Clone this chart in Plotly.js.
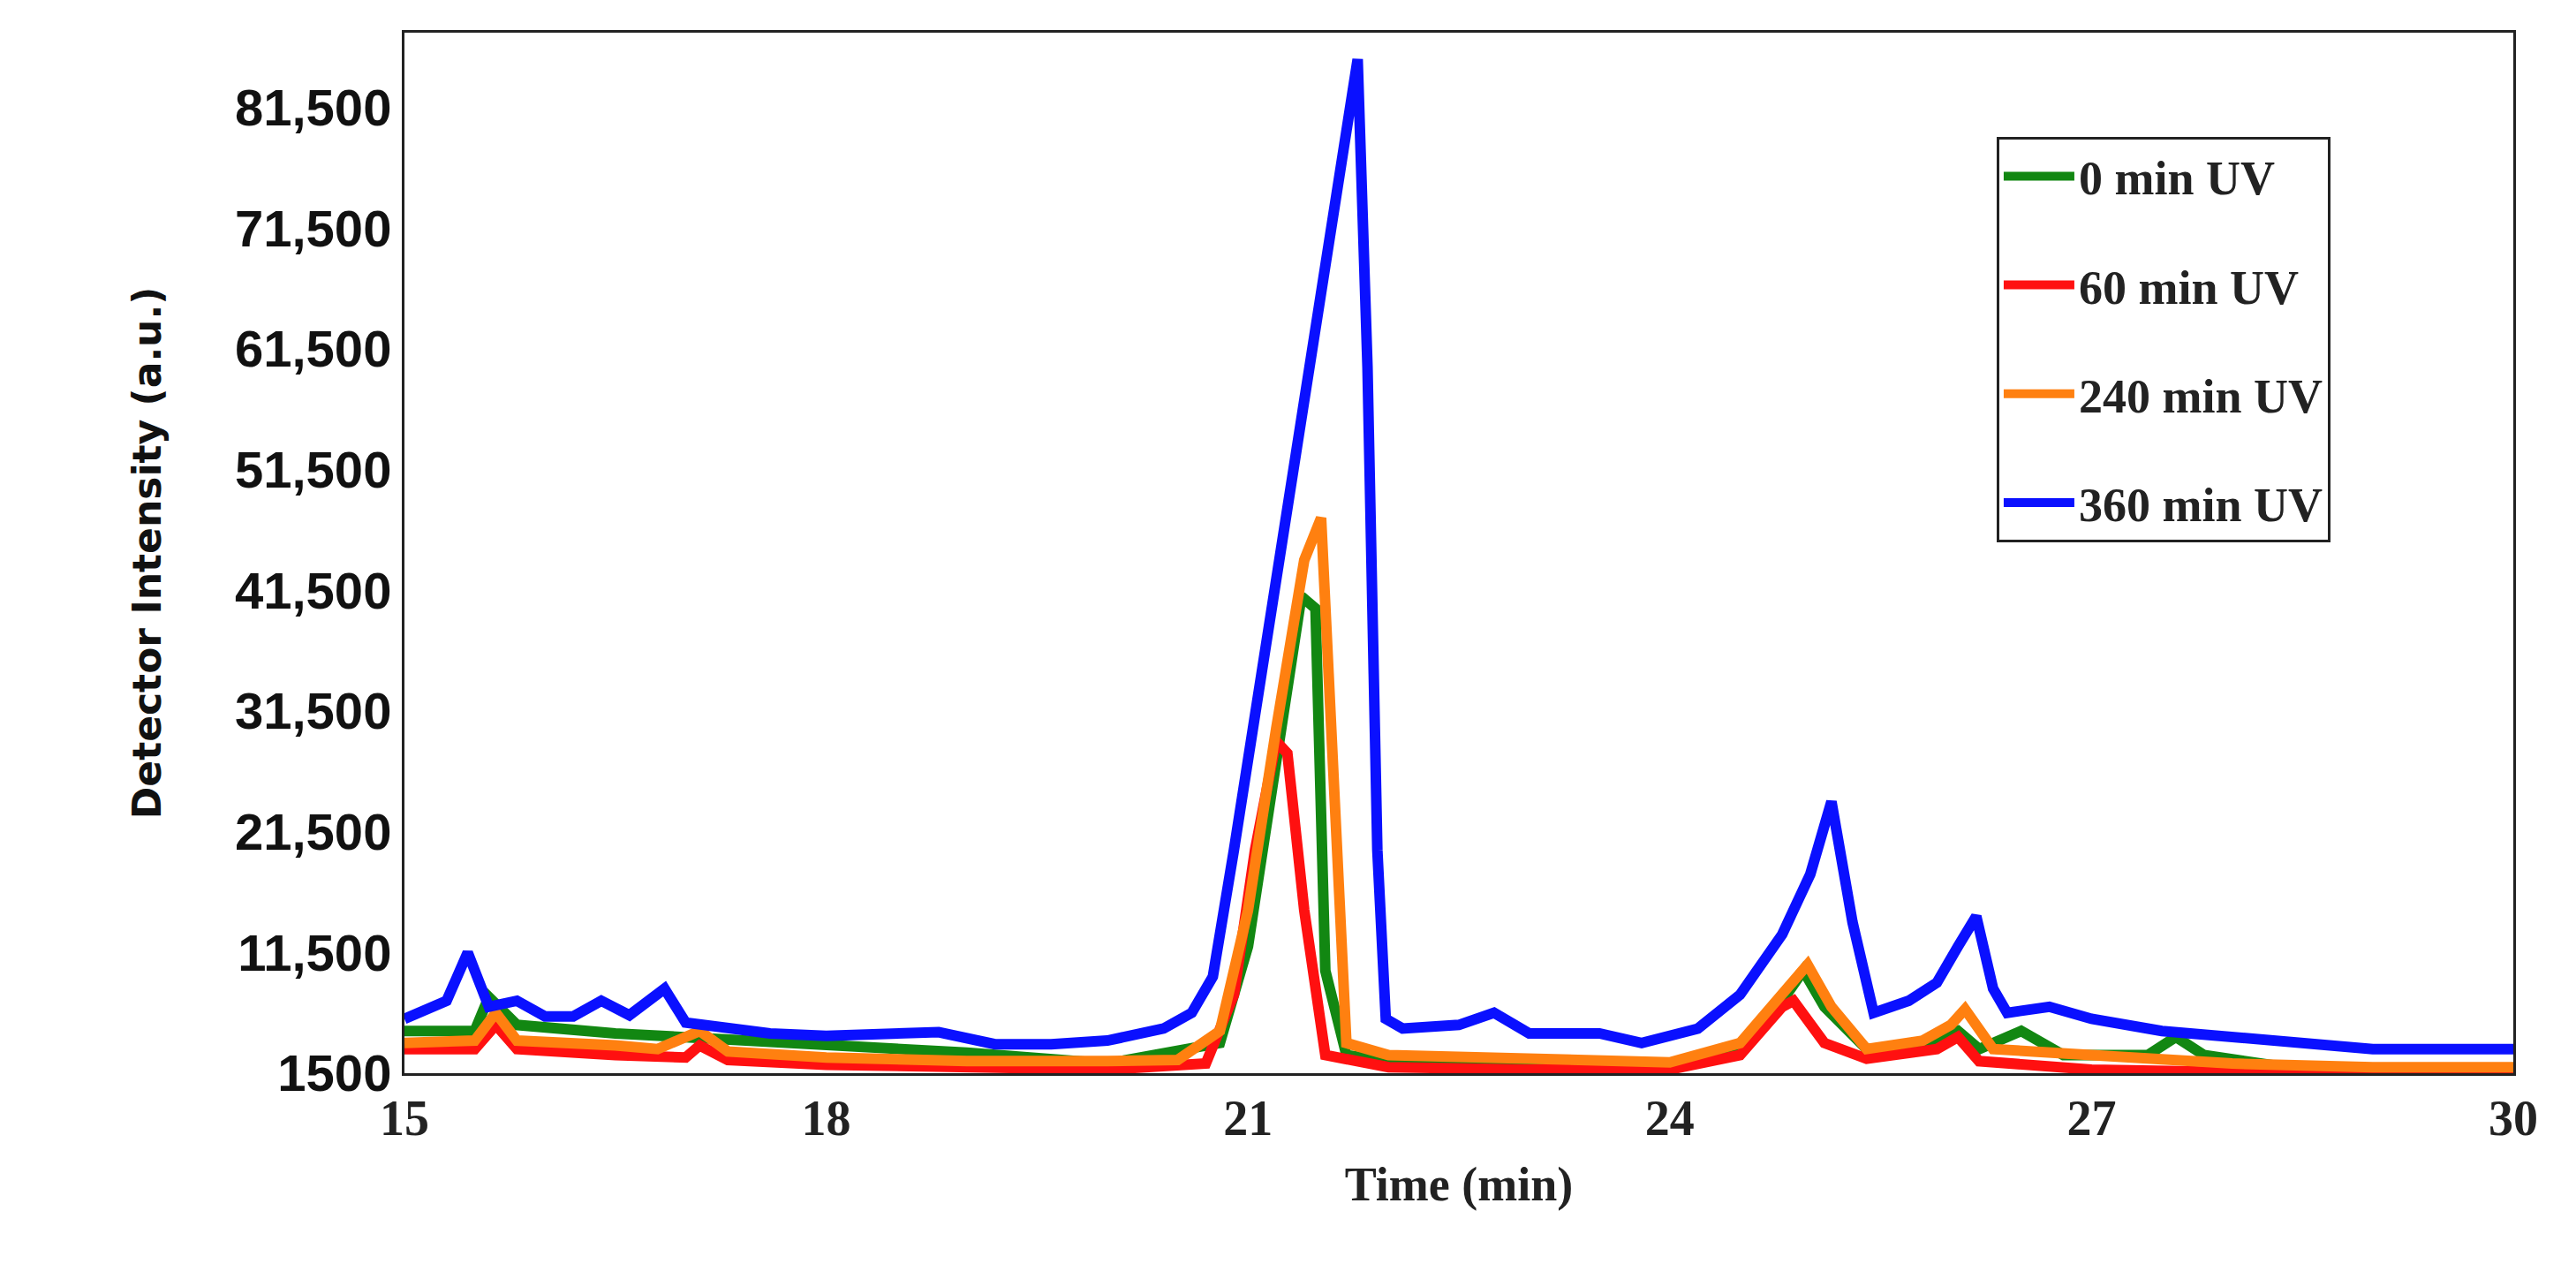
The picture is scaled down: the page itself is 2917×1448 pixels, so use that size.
<!DOCTYPE html>
<html>
<head>
<meta charset="utf-8">
<script src="https://cdn.plot.ly/plotly-3.0.1.min.js"></script>
<style>body{margin:0;background:#fff}#chart{width:2917px;height:1448px}</style>
</head>
<body>
<div id="chart"></div>
<script>
// Time (min) and detector intensity
const t0 = [15, 15.5, 15.6, 15.8, 16.5, 17, 17.5, 18, 19, 20, 20.8, 21.0, 21.2, 21.38, 21.48, 21.55, 21.7, 22, 23, 24, 24.5, 24.8, 24.95, 25.1, 25.4, 25.8, 26.05, 26.2, 26.5, 26.8, 27.4, 27.6, 27.8, 28.5, 30];
const uv0 = [5000, 5000, 7800, 5500, 4800, 4500, 4200, 3800, 3200, 2300, 4000, 12000, 28000, 41000, 40000, 10000, 3000, 2500, 2300, 2100, 3500, 7500, 10000, 7000, 3500, 3800, 5000, 3500, 5000, 3000, 3000, 4500, 3000, 1800, 1700];

const t60 = [15, 15.5, 15.65, 15.8, 16.5, 17, 17.1, 17.3, 18, 19, 20, 20.7, 20.9, 21.05, 21.2, 21.28, 21.4, 21.55, 22, 23, 24, 24.5, 24.8, 24.88, 25.1, 25.4, 25.9, 26.05, 26.2, 27, 28, 30];
const uv60 = [3500, 3500, 5500, 3500, 3000, 2800, 3800, 2600, 2200, 1900, 1800, 2300, 8000, 20000, 29000, 28000, 15000, 3000, 2000, 1800, 1800, 3000, 7000, 7500, 4000, 2700, 3500, 4500, 2500, 1800, 1600, 1600];

const t240 = [15, 15.5, 15.65, 15.8, 16.5, 16.8, 17.1, 17.3, 18, 19, 20, 20.5, 20.8, 21.0, 21.2, 21.4, 21.52, 21.62, 21.7, 22, 23, 24, 24.5, 24.8, 24.98, 25.15, 25.4, 25.8, 26.0, 26.1, 26.3, 27, 28, 29, 30];
const uv240 = [4000, 4200, 6500, 4200, 3800, 3500, 5000, 3300, 2800, 2500, 2500, 2600, 5000, 15000, 30000, 44000, 47500, 25000, 4000, 3000, 2800, 2400, 4000, 8000, 10500, 7000, 3500, 4200, 5500, 6800, 3500, 3000, 2300, 2000, 2000];

const t360 = [15, 15.3, 15.45, 15.6, 15.8, 16, 16.2, 16.4, 16.6, 16.85, 17, 17.3, 17.6, 18, 18.5, 18.8, 19.2, 19.6, 20, 20.4, 20.6, 20.75, 20.9, 21.1, 21.3, 21.5, 21.65, 21.78, 21.85, 21.92, 21.98, 22.1, 22.5, 22.75, 23, 23.5, 23.8, 24.2, 24.5, 24.8, 25, 25.15, 25.3, 25.45, 25.7, 25.9, 26.05, 26.18, 26.3, 26.4, 26.7, 27, 27.5, 28, 28.5, 29, 30];
const uv360 = [6000, 7500, 11500, 7000, 7500, 6200, 6200, 7500, 6300, 8500, 5700, 5300, 4800, 4600, 4900, 4900, 3900, 3900, 4200, 5200, 6500, 9500, 20000, 35000, 50000, 65000, 77000, 85500, 60000, 20000, 6000, 5200, 5500, 6500, 4800, 4800, 4000, 5200, 8000, 13000, 18000, 24000, 14000, 6500, 7500, 9000, 12000, 14500, 8500, 6500, 7000, 6000, 5000, 4500, 4000, 3500, 3500];

const names = ['0 min UV', '60 min UV', '240 min UV', '360 min UV'];
const colors = ['#128712', '#ff1010', '#ff8010', '#0a10ff'];
const xs = [t0, t60, t240, t360];
const ys = [uv0, uv60, uv240, uv360];
const yTicks = [1500, 11500, 21500, 31500, 41500, 51500, 61500, 71500, 81500];
const yTickText = ['1500', '11,500', '21,500', '31,500', '41,500', '51,500', '61,500', '71,500', '81,500'];

const traces = names.map((n, i) => ({
    x: xs[i],
    y: ys[i],
    name: n,
    legendgroup: n,
    type: 'scatter',
    mode: 'lines',
    line: { color: colors[i], width: 12 }
}));

const layout = {
    width: 2917,
    height: 1448,
    margin: { l: 458, r: 71, t: 37, b: 233 },
    paper_bgcolor: '#fff',
    plot_bgcolor: '#fff',
    showlegend: true,
    legend: {
        x: 0.755, y: 0.9, xanchor: 'left', yanchor: 'top',
        bordercolor: '#222', borderwidth: 3, bgcolor: '#fff',
        font: { family: 'Liberation Serif, serif', size: 54, color: '#222', weight: 'bold' },
        itemwidth: 80,
        tracegroupgap: 50
    },
    xaxis: {
        range: [15, 30],
        tickvals: [15, 18, 21, 24, 27, 30],
        showgrid: false, zeroline: false,
        showline: true, mirror: true, linecolor: '#222', linewidth: 3,
        ticks: '', ticklen: 0,
        tickfont: { family: 'Liberation Serif, serif', size: 56, color: '#222', weight: 'bold' },
        title: { text: 'Time (min)', font: { family: 'Liberation Serif, serif', size: 54, color: '#222', weight: 'bold' }, standoff: 25 }
    },
    yaxis: {
        range: [1500, 87700],
        tickvals: yTicks,
        ticktext: yTickText,
        showgrid: false, zeroline: false,
        showline: true, mirror: true, linecolor: '#222', linewidth: 3,
        ticks: '',
        tickfont: { family: 'Liberation Sans Narrow, Liberation Sans, sans-serif', size: 58, color: '#111', weight: 'bold' },
        title: { text: 'Detector Intensity (a.u.)', font: { family: 'DejaVu Sans, sans-serif', size: 44, color: '#111', weight: 'bold' }, standoff: 70 }
    }
};

Plotly.newPlot('chart', traces, layout, { displayModeBar: false, staticPlot: true });
</script>
</body>
</html>
